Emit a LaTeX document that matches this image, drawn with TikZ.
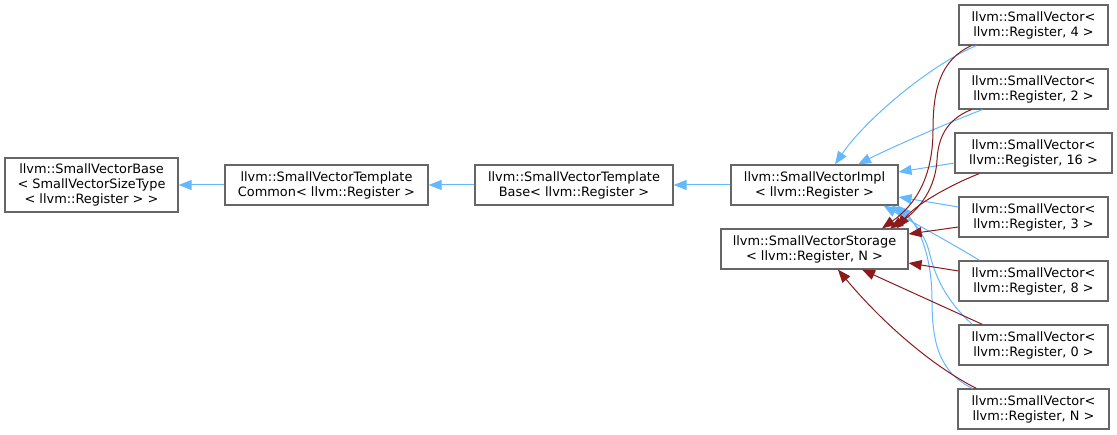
\documentclass[tikz,border=0pt]{standalone}
\usepackage{fontspec}
\setmainfont{DejaVu Sans}
\usetikzlibrary{arrows.meta,calc}
\definecolor{bordergray}{HTML}{666666}
\definecolor{inhblue}{HTML}{63B8FF}
\definecolor{tplred}{HTML}{8B1A1A}
\tikzset{
  cls/.style={draw=bordergray, fill=white, line width=1.2pt, inner sep=0pt,
    minimum height=40pt, align=center,
    font=\fontsize{12.9}{15}\selectfont},
  inh/.style={draw=inhblue, line width=1pt, -{Triangle[length=13pt,width=10pt]}},
  tpl/.style={draw=tplred, line width=1pt, -{Triangle[length=13pt,width=10pt]}}
}
\begin{document}
\begin{tikzpicture}[x=1pt,y=-1pt]
\useasboundingbox (0,0) rectangle (1117,435);
\node[cls, minimum width=173pt, minimum height=54pt] (a) at (91.5,185) {llvm::SmallVectorBase\\< SmallVectorSizeType\\< llvm::Register > >};
\node[cls, minimum width=203pt] (b) at (326.5,185) {llvm::SmallVectorTemplate\\Common< llvm::Register >};
\node[cls, minimum width=198pt] (c) at (574,185) {llvm::SmallVectorTemplate\\Base< llvm::Register >};
\node[cls, minimum width=167pt] (d) at (814.5,185) {llvm::SmallVectorImpl\\< llvm::Register >};
\node[cls, minimum width=187pt] (e) at (814.5,249) {llvm::SmallVectorStorage\\< llvm::Register, N >};
\node[cls, minimum width=149pt] (n4) at (1033.5,25) {llvm::SmallVector<\\ llvm::Register, 4 >};
\node[cls, minimum width=149pt] (n2) at (1033.5,89) {llvm::SmallVector<\\ llvm::Register, 2 >};
\node[cls, minimum width=157pt] (n16) at (1033.5,153) {llvm::SmallVector<\\ llvm::Register, 16 >};
\node[cls, minimum width=149pt] (n3) at (1033.5,217) {llvm::SmallVector<\\ llvm::Register, 3 >};
\node[cls, minimum width=149pt] (n8) at (1033.5,281) {llvm::SmallVector<\\ llvm::Register, 8 >};
\node[cls, minimum width=149pt] (n0) at (1033.5,345) {llvm::SmallVector<\\ llvm::Register, 0 >};
\node[cls, minimum width=151pt] (nn) at (1033.5,409) {llvm::SmallVector<\\ llvm::Register, N >};
% chain
\draw[inh] (b.west) -- (a.east);
\draw[inh] (c.west) -- (b.east);
\draw[inh] (d.west) -- (c.east);
% blue edges to Impl
\draw[inh] ($(n4.south west)+(18,0)$) .. controls (930,65) and (865,120) .. ($(d.north)+(20.5,0)$);
\draw[inh] ($(n2.south west)+(24,0)$) .. controls (950,122) and (890,148) .. ($(d.north)+(43.5,0)$);
\draw[inh] ($(n16.west)+(0,10)$) -- ($(d.east)+(0,-13)$);
\draw[inh] ($(n3.west)+(0,-10)$) -- ($(d.east)+(0,12)$);
\draw[inh] ($(n8.north west)+(21,0)$) .. controls (955,245) and (912,222) .. ($(d.south east)+(-15,0)$);
\draw[inh] ($(n0.north west)+(14,0)$) .. controls (945,300) and (935,275) .. (930,255) .. controls (925,232) and (910,218) .. ($(d.south east)+(-7,0)$);
\draw[inh] ($(nn.north west)+(15,0)$) .. controls (938,372) and (932,340) .. (932,300) .. controls (932,255) and (918,225) .. ($(d.south east)+(-1,0)$);
% red edges to Storage
\draw[tpl] ($(n4.south west)+(13,0)$) .. controls (940,60) and (933,90) .. (933,130) .. controls (933,178) and (915,205) .. ($(e.north)+(67.5,0)$);
\draw[tpl] ($(n2.south west)+(13,0)$) .. controls (945,120) and (938,140) .. (937,160) .. controls (935,195) and (912,215) .. ($(e.north)+(75.5,0)$);
\draw[tpl] ($(n16.south west)+(25,0)$) .. controls (950,185) and (915,205) .. ($(e.north)+(82.5,0)$);
\draw[tpl] ($(n3.west)+(0,10)$) -- ($(e.east)+(0,-15)$);
\draw[tpl] ($(n8.west)+(0,-10)$) -- ($(e.east)+(0,14)$);
\draw[tpl] ($(n0.north west)+(24,0)$) -- ($(e.south)+(47.5,0)$);
\draw[tpl] ($(nn.north west)+(19,0)$) .. controls (930,365) and (880,320) .. ($(e.south)+(23.5,0)$);
\end{tikzpicture}
\end{document}
